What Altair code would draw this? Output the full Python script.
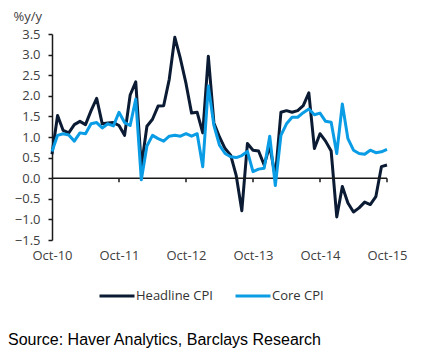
import altair as alt
import pandas as pd

# Monthly series, Oct-10 .. Oct-15 (61 months), % y/y
headline = [0.58, 1.52, 1.16, 1.10, 1.30, 1.38, 1.30, 1.64, 1.94, 1.32,
            1.34, 1.35, 1.28, 1.04, 2.02, 2.34, 0.28, 1.26, 1.43, 1.75,
            1.76, 2.40, 3.42, 2.90, 2.30, 1.58, 1.60, 1.10, 2.96, 1.34,
            1.00, 0.72, 0.56, 0.06, -0.79, 0.84, 0.68, 0.66, 0.32, 0.79,
            0.03, 1.60, 1.64, 1.60, 1.64, 1.76, 2.07, 0.72, 1.08, 0.90,
            0.66, -0.94, -0.20, -0.60, -0.82, -0.72, -0.58, -0.64, -0.45, 0.28,
            0.32]
core = [0.65, 1.04, 1.08, 1.05, 0.90, 1.10, 1.08, 1.32, 1.35, 1.22,
        1.32, 1.27, 1.60, 1.35, 1.28, 1.92, -0.04, 0.78, 1.04, 0.96,
        0.90, 1.02, 1.04, 1.02, 1.08, 1.02, 1.08, 0.28, 2.24, 1.28,
        0.80, 0.60, 0.52, 0.50, 0.55, 0.65, 0.16, 0.22, 0.24, 1.02,
        -0.18, 1.04, 1.32, 1.48, 1.48, 1.59, 1.68, 1.54, 1.58, 1.38,
        1.36, 0.60, 1.80, 0.96, 0.68, 0.60, 0.58, 0.68, 0.62, 0.64,
        0.70]
series_names = ["Headline CPI", "Core CPI"]
series_colors = ["#0b1b33", "#0a9ce4"]
x_tick_values = [0, 12, 24, 36, 48, 60]
x_tick_labels = ["Oct-10", "Oct-11", "Oct-12", "Oct-13", "Oct-14", "Oct-15"]
y_tick_values = [-1.5, -1.0, -0.5, 0.0, 0.5, 1.0, 1.5, 2.0, 2.5, 3.0, 3.5]
y_title = "%y/y"
source_text = "Source: Haver Analytics, Barclays Research"

months = list(range(len(headline)))
df_h = pd.DataFrame({"m": months, "v": headline, "s": series_names[0]})
df_c = pd.DataFrame({"m": months, "v": core, "s": series_names[1]})

label_expr = "[" + ",".join("'%s'" % l for l in x_tick_labels) + "][round(datum.value/12)]"
FONT = "Open Sans"

x_axis = alt.Axis(values=x_tick_values, labelExpr=label_expr, domain=False,
                  ticks=False, grid=False, labelPadding=9, title=None,
                  labelOverlap=False, labelFlush=False, labelBound=False,
                  labelFont=FONT, labelFontSize=13, labelColor="#404040")
y_axis = alt.Axis(values=y_tick_values, format=".1f", grid=False, labelOverlap=False,
                  labelFlush=False,
                  domain=True, domainColor="#1a1a1a", domainWidth=1.5,
                  ticks=True, tickColor="#1a1a1a", tickSize=4, tickWidth=1.5,
                  labelPadding=8, labelFont=FONT, labelFontSize=13,
                  labelColor="#404040",
                  title=y_title, titleAngle=0, titleX=-39, titleY=-18,
                  titleAlign="left", titleBaseline="middle",
                  titleFont=FONT, titleFontSize=13, titleFontWeight="normal",
                  titleColor="#404040")
x_scale = alt.Scale(domain=[0, 60], nice=False, zero=False)
y_scale = alt.Scale(domain=[-1.5, 3.5], nice=False, zero=False)

x_enc = alt.X("m:Q", scale=x_scale, axis=x_axis)
y_enc = alt.Y("v:Q", scale=y_scale, axis=y_axis)

color_enc = alt.Color("s:N", scale=alt.Scale(domain=series_names, range=series_colors),
                      legend=alt.Legend(orient="none", legendX=46, legendY=243,
                                        direction="horizontal", title=None,
                                        symbolType="stroke", symbolSize=1225,
                                        symbolStrokeWidth=3, labelOffset=0,
                                        columnPadding=16, labelFont=FONT,
                                        labelFontSize=13, labelColor="#333333"))

zero_df = pd.DataFrame({"m": [0], "m2": [60], "v": [0.0]})
zero_rule = alt.Chart(zero_df).mark_rule(color="#1a1a1a", strokeWidth=1.5).encode(
    x=x_enc, x2="m2:Q", y=y_enc)

tick_df = pd.DataFrame({"m": x_tick_values[1:], "v": 0.0, "v2": -0.1})
ticks = alt.Chart(tick_df).mark_rule(color="#1a1a1a", strokeWidth=1.5).encode(
    x=x_enc, y=y_enc, y2="v2:Q")

line_h = alt.Chart(df_h).mark_line(strokeWidth=3, strokeJoin="round").encode(
    x=x_enc, y=y_enc, color=color_enc)
line_c = alt.Chart(df_c).mark_line(strokeWidth=3, strokeJoin="round").encode(
    x=x_enc, y=y_enc, color=color_enc)

src = alt.Chart(pd.DataFrame({"t": [source_text]})).mark_text(
    align="left", baseline="middle", font="Liberation Sans", fontSize=16,
    color="#000000").encode(x=alt.value(-44), y=alt.value(306), text="t:N")

chart = alt.layer(line_h, zero_rule, ticks, line_c, src).properties(
    width=335, height=206,
    autosize=alt.AutoSizeParams(type="none"),
    padding={"left": 44, "top": 26, "right": 37, "bottom": 117},
).configure_view(stroke=None)

chart.save("out.html", embed_options={"renderer": "svg", "actions": False})
